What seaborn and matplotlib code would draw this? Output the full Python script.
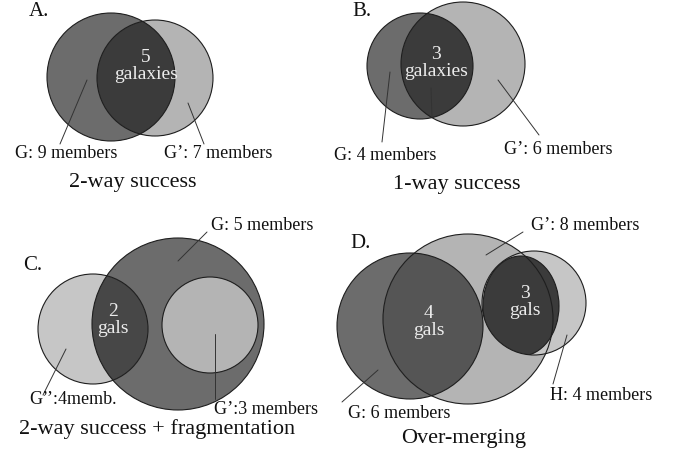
import matplotlib
matplotlib.use('Agg')
import matplotlib.pyplot as plt
import seaborn as sns
from matplotlib.patches import Circle, Ellipse

sns.set_style('white')
plt.rcParams['font.family'] = ['Liberation Serif', 'DejaVu Serif']

# --- data ---
panel_letters = ['A.', 'B.', 'C.', 'D.']
panel_titles = ['2-way success', '1-way success',
                '2-way success + fragmentation', 'Over-merging']
member_labels = [
    ['G: 9 members', 'G\u2019: 7 members'],
    ['G: 4 members', 'G\u2019: 6 members'],
    ['G: 5 members', 'G\u2019\u2019:4memb.', 'G\u2019:3 members'],
    ['G\u2019: 8 members', 'G: 6 members', 'H: 4 members'],
]
overlap_counts = [['5'], ['3'], ['2'], ['4', '3']]
overlap_words = [['galaxies'], ['galaxies'], ['gals'], ['gals', 'gals']]

# --- colours ---
DARK = '#6c6c6c'
LIGHT = '#b4b4b4'
LIGHTER = '#c6c6c6'
INTER = '#3b3b3b'
INTER_MID = '#555555'
EDGE = '#1e1e1e'
TXT_IN = '#ececec'

fig = plt.figure(figsize=(6.78, 4.55), dpi=100)
ax = fig.add_axes([0, 0, 1, 1])
ax.set_xlim(0, 678)
ax.set_ylim(455, 0)
ax.set_aspect('equal')
ax.axis('off')


def disc(x, y, r, color, z=1, clip=None):
    c = Circle((x, y), r, facecolor=color, edgecolor='none', zorder=z)
    ax.add_patch(c)
    if clip is not None:
        cp = Circle(clip[:2], clip[2], transform=ax.transData)
        c.set_clip_path(cp)
    return c


def ring(x, y, r, z=5):
    ax.add_patch(Circle((x, y), r, facecolor='none', edgecolor=EDGE,
                        lw=0.8, zorder=z))


def leader(x0, y0, x1, y1):
    ax.plot([x0, x1], [y0, y1], color='#333333', lw=0.7, zorder=6)


def label(x, y, s, size=13):
    ax.text(x, y, s, ha='center', va='center', fontsize=size,
            color='#111111', zorder=7)


def inner(x, y, count, word, size=14):
    # count sits on top, word below it
    ax.text(x, y, count, ha='center', va='bottom', fontsize=size,
            color=TXT_IN, zorder=7, linespacing=1)
    ax.text(x, y, word, ha='center', va='top', fontsize=size,
            color=TXT_IN, zorder=7, linespacing=1)


# panel A
gA, gpA = (111, 77, 64), (155, 78, 58)
disc(*gA, DARK)
disc(*gpA, LIGHT)
disc(*gpA, INTER, z=2, clip=gA)
ring(*gA); ring(*gpA)
inner(146, 66, overlap_counts[0][0], overlap_words[0][0])
leader(60, 144, 87, 80)
leader(204, 144, 188, 103)
label(66, 154, member_labels[0][0])
label(218, 154, member_labels[0][1])
label(133, 183, panel_titles[0], size=16)
label(39, 12, panel_letters[0], size=15)

# panel B
gB, gpB = (420, 66, 53), (463, 64, 62)
disc(*gB, DARK)
disc(*gpB, LIGHT)
disc(*gpB, INTER, z=2, clip=gB)
ring(*gB); ring(*gpB)
inner(436, 63, overlap_counts[1][0], overlap_words[1][0])
leader(382, 142, 390, 72)
leader(539, 135, 498, 80)
leader(431, 88, 432, 117)
label(385, 155, member_labels[1][0])
label(558, 150, member_labels[1][1])
label(457, 185, panel_titles[1], size=16)
label(362, 12, panel_letters[1], size=15)

# panel C
gC, gppC, gpC = (178, 324, 86), (93, 329, 55), (210, 325, 48)
disc(*gC, DARK)
disc(*gppC, LIGHTER)
disc(*gppC, '#474747', z=2, clip=gC)
disc(*gpC, LIGHT, z=3)
ring(*gC); ring(*gppC); ring(*gpC)
inner(113, 320, overlap_counts[2][0], overlap_words[2][0])
leader(207, 232, 178, 261)
leader(43, 395, 66, 349)
leader(215, 399, 215, 334)
label(262, 226, member_labels[2][0])
label(73, 399, member_labels[2][1])
label(266, 410, member_labels[2][2])
label(157, 429, panel_titles[2], size=16)
label(33, 265, panel_letters[2], size=15)

# panel D
gD, gpD, hD = (410, 326, 73), (468, 319, 85), (534, 303, 52)
disc(*gD, DARK)
disc(*gpD, LIGHT)
disc(*gpD, INTER_MID, z=2, clip=gD)
disc(*hD, LIGHTER, z=3)
dark = Ellipse((521, 306), 76, 100, facecolor=INTER, edgecolor=EDGE,
               lw=0.8, zorder=4)
ax.add_patch(dark)
dark.set_clip_path(Circle(hD[:2], hD[2], transform=ax.transData))
ring(*gD); ring(*gpD); ring(*hD)
inner(429, 322, overlap_counts[3][0], overlap_words[3][0])
inner(525, 302, overlap_counts[3][1], overlap_words[3][1])
leader(523, 232, 486, 255)
leader(342, 402, 378, 370)
leader(553, 384, 567, 335)
label(585, 226, member_labels[3][0])
label(399, 414, member_labels[3][1])
label(601, 396, member_labels[3][2])
label(464, 438, panel_titles[3], size=16)
label(361, 243, panel_letters[3], size=15)

fig.savefig('out.png', dpi=100)
